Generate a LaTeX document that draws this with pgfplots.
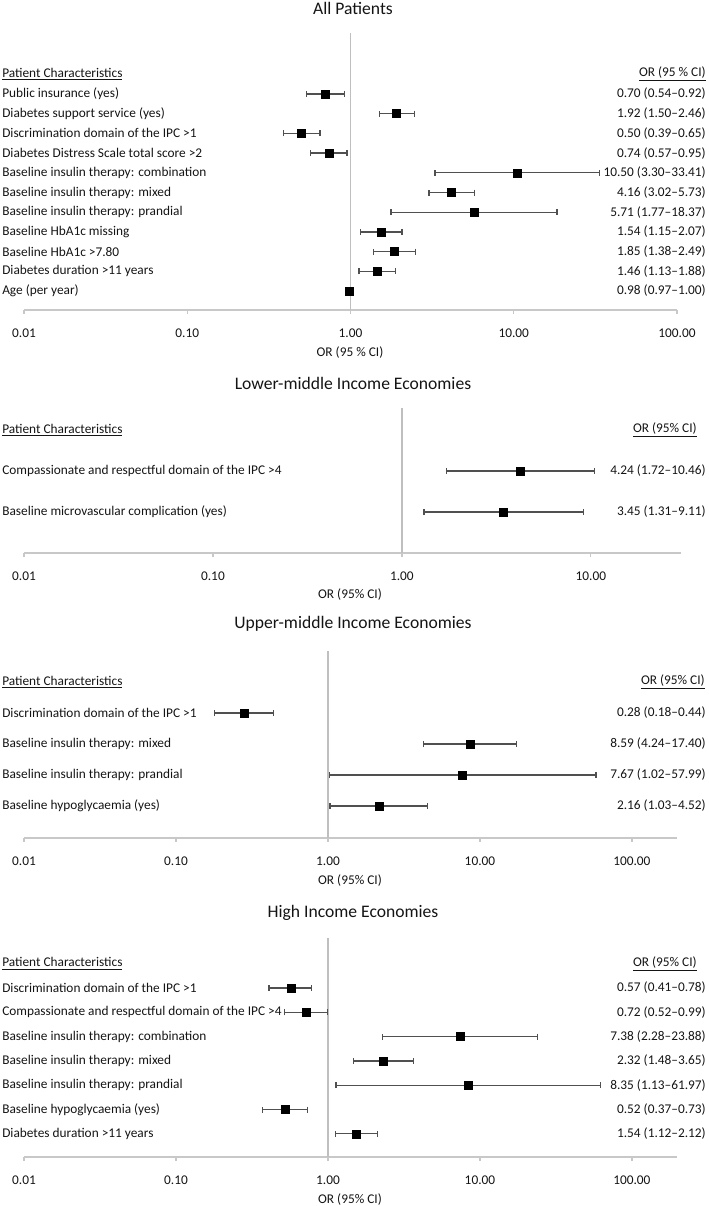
\documentclass[border=0pt]{standalone}
\usepackage{fontspec}
\setmainfont{Carlito}
\usepackage{pgfplots}
\usepackage{pgfplotstable}
\pgfplotsset{compat=1.18}

\definecolor{errgray}{RGB}{80,80,80}
\definecolor{refgray}{RGB}{191,191,191}
\definecolor{axgray}{RGB}{200,200,200}
\definecolor{txt}{RGB}{20,20,20}

% one table per panel: row, odds ratio, lower and upper 95% limits
\pgfplotstableread{
row or lo hi
1 0.70 0.54 0.92
2 1.92 1.50 2.46
3 0.50 0.39 0.65
4 0.74 0.57 0.95
5 10.50 3.30 33.41
6 4.16 3.02 5.73
7 5.71 1.77 18.37
8 1.54 1.15 2.07
9 1.85 1.38 2.49
10 1.46 1.13 1.88
11 0.98 0.97 1.00
}\allpts

\pgfplotstableread{
row or lo hi
1 4.24 1.72 10.46
2 3.45 1.31 9.11
}\lowmid

\pgfplotstableread{
row or lo hi
1 0.28 0.18 0.44
2 8.59 4.24 17.40
3 7.67 1.02 57.99
4 2.16 1.03 4.52
}\uppmid

\pgfplotstableread{
row or lo hi
1 0.57 0.41 0.78
2 0.72 0.52 0.99
3 7.38 2.28 23.88
4 2.32 1.48 3.65
5 8.35 1.13 61.97
6 0.52 0.37 0.73
7 1.54 1.12 2.12
}\high

\newcommand{\lab}{\fontsize{10}{11}\selectfont}
\tikzset{lbl/.style={font=\lab, text=txt, inner sep=0pt}}
\newcommand{\rowlab}[3]{%
  \node[lbl, anchor=west, xshift=-16.5pt] at (axis cs:0.01,#1) {#2};
  \node[lbl, anchor=east, xshift=511.5pt] at (axis cs:0.01,#1) {#3};}

\pgfplotsset{
  panel/.style={
    scale only axis, anchor=south west, clip=false,
    xmin=0.01, y dir=reverse,
    axis x line*=bottom, axis y line=none,
    xtick={0.01,0.1,1,10,100},
    xticklabels={0.01,0.10,1.00,10.00,100.00},
    xminorticks=false,
    tick align=outside, major tick length=3pt,
    axis line style={draw=axgray, line width=1.1pt},
    tick style={draw=axgray, line width=0.9pt},
    xticklabel style={font=\lab, text=txt, anchor=center, yshift=-14.25pt},
    xlabel style={font=\lab, text=txt, at={(axis description cs:0.5,0)}, anchor=center},
    title style={font=\fontsize{13.2}{15}\selectfont, text=txt, at={(axis description cs:0.5,1)}, anchor=center},
  },
  ci/.style={only marks, mark=square*, mark size=3pt, black,
    error bars/x dir=both, error bars/x explicit,
    error bars/error mark=|,
    error bars/error bar style={errgray, line width=1pt},
    error bars/error mark options={errgray, line width=1pt, mark size=2.25pt}},
}

\begin{document}
\begin{tikzpicture}
\useasboundingbox (0,0) rectangle (531.75pt,-904.5pt);

% All Patients
\begin{axis}[panel, xmode=log, at={(18pt,-232.5pt)}, width=489.75pt, height=207.75pt,
    xmax=100, ymin=-2.096, ymax=11.964,
    title={All Patients}, title style={xshift=1.875pt, yshift=12.75pt},
    xlabel={OR (95 \% CI)}, xlabel style={xshift=-0.375pt, yshift=-32pt}]
\addplot[refgray, line width=1pt, forget plot] coordinates {(1,-2.096) (1,11.964)};
\addplot[ci] table[x=or, y=row,
    x error plus expr=\thisrow{hi}-\thisrow{or},
    x error minus expr=\thisrow{or}-\thisrow{lo}] {\allpts};
\node[lbl, anchor=west, xshift=-16.5pt] at (axis cs:0.01,0) {\underline{Patient Characteristics}};
\node[lbl, anchor=east, xshift=511.5pt] at (axis cs:0.01,0) {\underline{OR (95 \% CI)}};
\rowlab{1}{Public insurance (yes)}{0.70 (0.54--0.92)}
\rowlab{2}{Diabetes support service (yes)}{1.92 (1.50--2.46)}
\rowlab{3}{Discrimination domain of the IPC >1}{0.50 (0.39--0.65)}
\rowlab{4}{Diabetes Distress Scale total score >2}{0.74 (0.57--0.95)}
\rowlab{5}{Baseline insulin therapy: combination}{10.50 (3.30--33.41)}
\rowlab{6}{Baseline insulin therapy: mixed}{4.16 (3.02--5.73)}
\rowlab{7}{Baseline insulin therapy: prandial}{5.71 (1.77--18.37)}
\rowlab{8}{Baseline HbA1c missing}{1.54 (1.15--2.07)}
\rowlab{9}{Baseline HbA1c >7.80}{1.85 (1.38--2.49)}
\rowlab{10}{Diabetes duration >11 years}{1.46 (1.13--1.88)}
\rowlab{11}{Age (per year)}{0.98 (0.97--1.00)}
\end{axis}

% Lower-middle income
\begin{axis}[panel, xmode=log, at={(18pt,-414.75pt)}, width=492.75pt, height=108.75pt,
    xmax=30, ymin=-0.537, ymax=3,
    title={Lower-middle Income Economies}, title style={xshift=0.375pt, yshift=12.75pt},
    xlabel={OR (95\% CI)}, xlabel style={xshift=-1.875pt, yshift=-31.25pt}]
\addplot[refgray, line width=1pt, forget plot] coordinates {(1,-0.537) (1,3)};
\addplot[ci] table[x=or, y=row,
    x error plus expr=\thisrow{hi}-\thisrow{or},
    x error minus expr=\thisrow{or}-\thisrow{lo}] {\lowmid};
\node[lbl, anchor=west, xshift=-16.5pt] at (axis cs:0.01,0) {\underline{Patient Characteristics}};
\node[lbl, anchor=east, xshift=504.75pt] at (axis cs:0.01,0) {\underline{OR (95\% CI)}};
\rowlab{1}{Compassionate and respectful domain of the IPC >4}{4.24 (1.72--10.46)}
\rowlab{2}{Baseline microvascular complication (yes)}{3.45 (1.31--9.11)}
\end{axis}

% Upper-middle income
\begin{axis}[panel, xmode=log, at={(18pt,-628.5pt)}, width=489.75pt, height=140.25pt,
    xmax=198, ymin=-1, ymax=5.032,
    title={Upper-middle Income Economies}, title style={xshift=1.875pt, yshift=14.25pt},
    xlabel={OR (95\% CI)}, xlabel style={xshift=-0.375pt, yshift=-32pt}]
\addplot[refgray, line width=1pt, forget plot] coordinates {(1,-1) (1,5.032)};
\addplot[ci] table[x=or, y=row,
    x error plus expr=\thisrow{hi}-\thisrow{or},
    x error minus expr=\thisrow{or}-\thisrow{lo}] {\uppmid};
\node[lbl, anchor=west, xshift=-16.5pt] at (axis cs:0.01,0) {\underline{Patient Characteristics}};
\node[lbl, anchor=east, xshift=510.75pt] at (axis cs:0.01,0) {\underline{OR (95\% CI)}};
\rowlab{1}{Discrimination domain of the IPC >1}{0.28 (0.18--0.44)}
\rowlab{2}{Baseline insulin therapy: mixed}{8.59 (4.24--17.40)}
\rowlab{3}{Baseline insulin therapy: prandial}{7.67 (1.02--57.99)}
\rowlab{4}{Baseline hypoglycaemia (yes)}{2.16 (1.03--4.52)}
\end{axis}

% High income
\begin{axis}[panel, xmode=log, at={(18pt,-867.75pt)}, width=489.75pt, height=164.25pt,
    xmax=198, ymin=-1.058, ymax=7.955,
    title={High Income Economies}, title style={xshift=1.875pt, yshift=12.75pt},
    xlabel={OR (95\% CI)}, xlabel style={xshift=-0.375pt, yshift=-32pt}]
\addplot[refgray, line width=1pt, forget plot] coordinates {(1,-1.058) (1,7.955)};
\addplot[ci] table[x=or, y=row,
    x error plus expr=\thisrow{hi}-\thisrow{or},
    x error minus expr=\thisrow{or}-\thisrow{lo}] {\high};
\node[lbl, anchor=west, xshift=-16.5pt] at (axis cs:0.01,0) {\underline{Patient Characteristics}};
\node[lbl, anchor=east, xshift=504.75pt] at (axis cs:0.01,0) {\underline{OR (95\% CI)}};
\rowlab{1}{Discrimination domain of the IPC >1}{0.57 (0.41--0.78)}
\rowlab{2}{Compassionate and respectful domain of the IPC >4}{0.72 (0.52--0.99)}
\rowlab{3}{Baseline insulin therapy: combination}{7.38 (2.28--23.88)}
\rowlab{4}{Baseline insulin therapy: mixed}{2.32 (1.48--3.65)}
\rowlab{5}{Baseline insulin therapy: prandial}{8.35 (1.13--61.97)}
\rowlab{6}{Baseline hypoglycaemia (yes)}{0.52 (0.37--0.73)}
\rowlab{7}{Diabetes duration >11 years}{1.54 (1.12--2.12)}
\end{axis}
\end{tikzpicture}
\end{document}
